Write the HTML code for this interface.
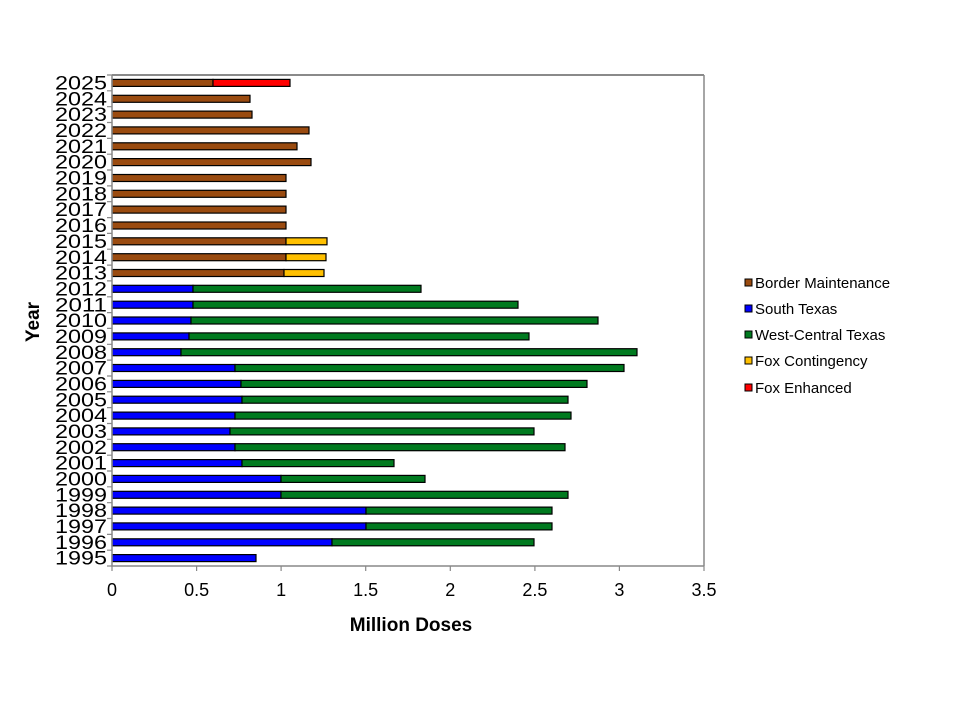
<!DOCTYPE html>
<html><head><meta charset="utf-8"><style>body{margin:0;background:#fff}svg{display:block}text{font-family:"Liberation Sans",Arial,sans-serif;fill:#000}</style></head>
<body>
<svg width="960" height="720" viewBox="0 0 960 720" xmlns="http://www.w3.org/2000/svg">
<rect width="960" height="720" fill="#fff"/>
<g stroke="#000" stroke-width="1.2">
<rect x="112" y="79.4" width="101" height="7" fill="#9a4b10"/><rect x="213" y="79.4" width="77" height="7" fill="#ff0000"/>
<rect x="112" y="95.3" width="138" height="7" fill="#9a4b10"/>
<rect x="112" y="111.1" width="140" height="7" fill="#9a4b10"/>
<rect x="112" y="126.9" width="197" height="7" fill="#9a4b10"/>
<rect x="112" y="142.8" width="185" height="7" fill="#9a4b10"/>
<rect x="112" y="158.6" width="199" height="7" fill="#9a4b10"/>
<rect x="112" y="174.5" width="174" height="7" fill="#9a4b10"/>
<rect x="112" y="190.3" width="174" height="7" fill="#9a4b10"/>
<rect x="112" y="206.1" width="174" height="7" fill="#9a4b10"/>
<rect x="112" y="222.0" width="174" height="7" fill="#9a4b10"/>
<rect x="112" y="237.8" width="174" height="7" fill="#9a4b10"/><rect x="286" y="237.8" width="41" height="7" fill="#ffc000"/>
<rect x="112" y="253.7" width="174" height="7" fill="#9a4b10"/><rect x="286" y="253.7" width="40" height="7" fill="#ffc000"/>
<rect x="112" y="269.5" width="172" height="7" fill="#9a4b10"/><rect x="284" y="269.5" width="40" height="7" fill="#ffc000"/>
<rect x="112" y="285.3" width="81" height="7" fill="#0000ff"/><rect x="193" y="285.3" width="228" height="7" fill="#007a1f"/>
<rect x="112" y="301.2" width="81" height="7" fill="#0000ff"/><rect x="193" y="301.2" width="325" height="7" fill="#007a1f"/>
<rect x="112" y="317.0" width="79" height="7" fill="#0000ff"/><rect x="191" y="317.0" width="407" height="7" fill="#007a1f"/>
<rect x="112" y="332.9" width="77" height="7" fill="#0000ff"/><rect x="189" y="332.9" width="340" height="7" fill="#007a1f"/>
<rect x="112" y="348.7" width="69" height="7" fill="#0000ff"/><rect x="181" y="348.7" width="456" height="7" fill="#007a1f"/>
<rect x="112" y="364.5" width="123" height="7" fill="#0000ff"/><rect x="235" y="364.5" width="389" height="7" fill="#007a1f"/>
<rect x="112" y="380.4" width="129" height="7" fill="#0000ff"/><rect x="241" y="380.4" width="346" height="7" fill="#007a1f"/>
<rect x="112" y="396.2" width="130" height="7" fill="#0000ff"/><rect x="242" y="396.2" width="326" height="7" fill="#007a1f"/>
<rect x="112" y="412.1" width="123" height="7" fill="#0000ff"/><rect x="235" y="412.1" width="336" height="7" fill="#007a1f"/>
<rect x="112" y="427.9" width="118" height="7" fill="#0000ff"/><rect x="230" y="427.9" width="304" height="7" fill="#007a1f"/>
<rect x="112" y="443.7" width="123" height="7" fill="#0000ff"/><rect x="235" y="443.7" width="330" height="7" fill="#007a1f"/>
<rect x="112" y="459.6" width="130" height="7" fill="#0000ff"/><rect x="242" y="459.6" width="152" height="7" fill="#007a1f"/>
<rect x="112" y="475.4" width="169" height="7" fill="#0000ff"/><rect x="281" y="475.4" width="144" height="7" fill="#007a1f"/>
<rect x="112" y="491.3" width="169" height="7" fill="#0000ff"/><rect x="281" y="491.3" width="287" height="7" fill="#007a1f"/>
<rect x="112" y="507.1" width="254" height="7" fill="#0000ff"/><rect x="366" y="507.1" width="186" height="7" fill="#007a1f"/>
<rect x="112" y="522.9" width="254" height="7" fill="#0000ff"/><rect x="366" y="522.9" width="186" height="7" fill="#007a1f"/>
<rect x="112" y="538.8" width="220" height="7" fill="#0000ff"/><rect x="332" y="538.8" width="202" height="7" fill="#007a1f"/>
<rect x="112" y="554.6" width="144" height="7" fill="#0000ff"/>
</g>
<path d="M112 75H704" stroke="#444" stroke-width="1.2"/>
<path d="M704 75V566M112 75V566H704" stroke="#888" stroke-width="1.5" fill="none"/>
<g stroke="#888" stroke-width="1.2">
<path d="M107 75H112M107 90.8H112M107 106.7H112M107 122.5H112M107 138.4H112M107 154.2H112M107 170H112M107 185.9H112M107 201.7H112M107 217.6H112M107 233.4H112M107 249.2H112M107 265.1H112M107 280.9H112M107 296.8H112M107 312.6H112M107 328.4H112M107 344.3H112M107 360.1H112M107 376H112M107 391.8H112M107 407.6H112M107 423.5H112M107 439.3H112M107 455.2H112M107 471H112M107 486.8H112M107 502.7H112M107 518.5H112M107 534.4H112M107 550.2H112M107 566H112"/>
<path d="M112 566V571M196.6 566V571M281.1 566V571M365.7 566V571M450.3 566V571M534.9 566V571M619.4 566V571M704 566V571"/>
</g>
<g font-size="19" text-anchor="end" lengthAdjust="spacingAndGlyphs">
<text x="107" y="89.5" textLength="52" lengthAdjust="spacingAndGlyphs">2025</text><text x="107" y="105.4" textLength="52" lengthAdjust="spacingAndGlyphs">2024</text><text x="107" y="121.2" textLength="52" lengthAdjust="spacingAndGlyphs">2023</text><text x="107" y="137" textLength="52" lengthAdjust="spacingAndGlyphs">2022</text><text x="107" y="152.9" textLength="52" lengthAdjust="spacingAndGlyphs">2021</text><text x="107" y="168.7" textLength="52" lengthAdjust="spacingAndGlyphs">2020</text><text x="107" y="184.6" textLength="52" lengthAdjust="spacingAndGlyphs">2019</text><text x="107" y="200.4" textLength="52" lengthAdjust="spacingAndGlyphs">2018</text><text x="107" y="216.2" textLength="52" lengthAdjust="spacingAndGlyphs">2017</text><text x="107" y="232.1" textLength="52" lengthAdjust="spacingAndGlyphs">2016</text><text x="107" y="247.9" textLength="52" lengthAdjust="spacingAndGlyphs">2015</text><text x="107" y="263.8" textLength="52" lengthAdjust="spacingAndGlyphs">2014</text><text x="107" y="279.6" textLength="52" lengthAdjust="spacingAndGlyphs">2013</text><text x="107" y="295.4" textLength="52" lengthAdjust="spacingAndGlyphs">2012</text><text x="107" y="311.3" textLength="52" lengthAdjust="spacingAndGlyphs">2011</text><text x="107" y="327.1" textLength="52" lengthAdjust="spacingAndGlyphs">2010</text><text x="107" y="343" textLength="52" lengthAdjust="spacingAndGlyphs">2009</text><text x="107" y="358.8" textLength="52" lengthAdjust="spacingAndGlyphs">2008</text><text x="107" y="374.6" textLength="52" lengthAdjust="spacingAndGlyphs">2007</text><text x="107" y="390.5" textLength="52" lengthAdjust="spacingAndGlyphs">2006</text><text x="107" y="406.3" textLength="52" lengthAdjust="spacingAndGlyphs">2005</text><text x="107" y="422.2" textLength="52" lengthAdjust="spacingAndGlyphs">2004</text><text x="107" y="438" textLength="52" lengthAdjust="spacingAndGlyphs">2003</text><text x="107" y="453.8" textLength="52" lengthAdjust="spacingAndGlyphs">2002</text><text x="107" y="469.7" textLength="52" lengthAdjust="spacingAndGlyphs">2001</text><text x="107" y="485.5" textLength="52" lengthAdjust="spacingAndGlyphs">2000</text><text x="107" y="501.4" textLength="52" lengthAdjust="spacingAndGlyphs">1999</text><text x="107" y="517.2" textLength="52" lengthAdjust="spacingAndGlyphs">1998</text><text x="107" y="533" textLength="52" lengthAdjust="spacingAndGlyphs">1997</text><text x="107" y="548.9" textLength="52" lengthAdjust="spacingAndGlyphs">1996</text><text x="107" y="564.7" textLength="52" lengthAdjust="spacingAndGlyphs">1995</text>
</g>
<g font-size="18" text-anchor="middle">
<text x="112" y="596">0</text><text x="196.6" y="596">0.5</text><text x="281.1" y="596">1</text><text x="365.7" y="596">1.5</text><text x="450.3" y="596">2</text><text x="534.9" y="596">2.5</text><text x="619.4" y="596">3</text><text x="704" y="596">3.5</text>
</g>
<text x="411" y="631" font-size="19" font-weight="bold" text-anchor="middle">Million Doses</text>
<text transform="translate(39,322) rotate(-90)" font-size="19" font-weight="bold" text-anchor="middle">Year</text>
<g stroke="#000" stroke-width="1">
<rect x="745" y="279" width="7" height="7" fill="#9a4b10"/>
<rect x="745" y="305" width="7" height="7" fill="#0000ff"/>
<rect x="745" y="331" width="7" height="7" fill="#007a1f"/>
<rect x="745" y="357" width="7" height="7" fill="#ffc000"/>
<rect x="745" y="384" width="7" height="7" fill="#ff0000"/>
</g>
<g font-size="15">
<text x="755" y="288">Border Maintenance</text>
<text x="755" y="314">South Texas</text>
<text x="755" y="340">West-Central Texas</text>
<text x="755" y="366">Fox Contingency</text>
<text x="755" y="393">Fox Enhanced</text>
</g>
</svg>
</body></html>
